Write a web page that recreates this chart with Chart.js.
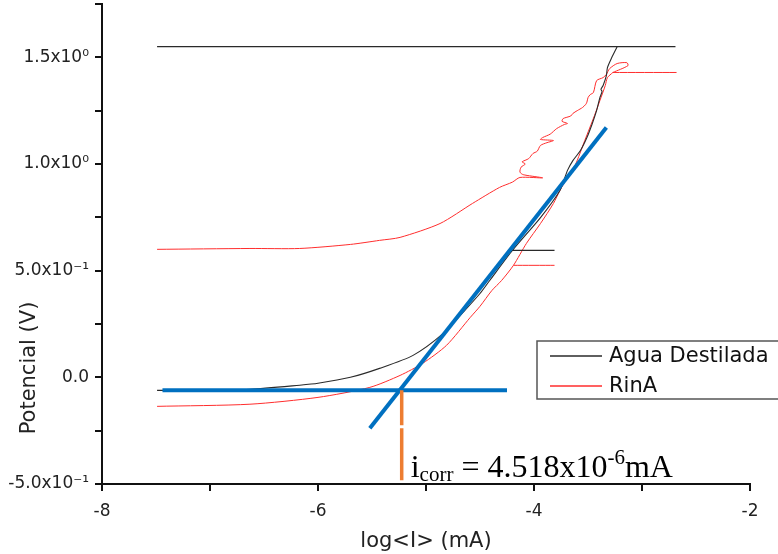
<!DOCTYPE html>
<html>
<head>
    <meta charset="UTF-8">
    <title>Polarización - icorr</title>
    <script src="https://cdn.jsdelivr.net/npm/chart.js"></script>
    <style>
        body { margin: 0; background: #fff; }
        canvas { display: block; }
    </style>
</head>
<body>
    <canvas id="myChart" width="778" height="554"></canvas>

    <script>
        // curva Agua Destilada (null = corte de la linea)
        var aguaX = [-7.49, -7.09, -6.63, -6.17, -6.00, -5.70, -5.43, -5.12, -4.84, -4.64, -4.50, -4.41, -4.20, -3.94, -3.76, -3.69, -3.64, -3.57, -3.51, -3.46, -3.42, -3.39, -3.37, -3.38, -3.36, -3.33, -3.32, -3.28, -3.23, null, -7.49, -2.69, null, -4.20, -3.81];
        var aguaY = [-0.061, -0.061, -0.056, -0.037, -0.028, 0.000, 0.042, 0.103, 0.206, 0.314, 0.393, 0.454, 0.595, 0.749, 0.876, 0.970, 1.016, 1.063, 1.124, 1.190, 1.251, 1.311, 1.340, 1.350, 1.368, 1.414, 1.452, 1.499, 1.550, null, 1.550, 1.550, null, 0.595, 0.595];

        // curva RinA: rama inferior, tramo corto, rama superior ondulada
        var rinaX = [-7.49, -6.63, -6.00, -5.52, -5.24, -5.03, -4.81, -4.59, -4.50, -4.39, -4.30, -4.19, -4.07, -3.94, -3.82, -3.76, -3.69, -3.62, -3.53, -3.44, -3.39, -3.34, -3.32, -3.27, null, -3.27, -2.68,
            null, -4.19, -3.81,
            null, -7.49, -6.63, -6.17, -5.70, -5.43, -5.24, -4.87, -4.57, -4.32, -4.20, -4.13, -3.92, -4.10, -4.13, -4.12, -4.08, -4.11, -4.05, -4.01, -3.97, -3.94, -3.88, -3.82, -3.94, -3.92, -3.85, -3.79, -3.72, -3.69, -3.74, -3.73, -3.66, -3.64, -3.60, -3.55, -3.52, -3.51, -3.50, -3.48, -3.45, -3.42, -3.36, -3.33, -3.30, -3.23, -3.14, -3.13, -3.27];
        var rinaY = [-0.136, -0.126, -0.094, -0.047, 0.009, 0.066, 0.150, 0.281, 0.333, 0.407, 0.454, 0.525, 0.628, 0.721, 0.815, 0.876, 0.937, 0.993, 1.110, 1.227, 1.297, 1.368, 1.405, 1.429, null, 1.429, 1.429,
            null, 0.525, 0.525,
            null, 0.600, 0.604, 0.604, 0.623, 0.642, 0.656, 0.721, 0.815, 0.890, 0.915, 0.937, 0.935, 0.950, 0.962, 0.985, 1.000, 1.010, 1.025, 1.049, 1.060, 1.087, 1.100, 1.110, 1.115, 1.124, 1.140, 1.166, 1.185, 1.190, 1.200, 1.213, 1.225, 1.237, 1.250, 1.265, 1.280, 1.290, 1.311, 1.325, 1.335, 1.391, 1.405, 1.420, 1.447, 1.471, 1.475, 1.461, 1.429];

        // rectas de Tafel y linea de icorr
        var fitX = [-7.44, -4.25];
        var fitY = [-0.061, -0.061];
        var tafelX = [-5.52, -3.33];
        var tafelY = [-0.239, 1.171];
        var icorrX = [-5.225, -5.225, null, -5.225, -5.225];
        var icorrY = [-0.061, -0.225, null, -0.239, -0.482];

        var yTickValues = [-0.5, 0, 0.5, 1, 1.5];
        var yTickLabels = ['-5.0x10⁻¹', '0.0', '5.0x10⁻¹', '1.0x10⁰', '1.5x10⁰'];
        var xTickValues = [-8, -6, -4, -2];
        var xTickLabels = ['-8', '-6', '-4', '-2'];

        function pts(xs, ys) {
            var out = [];
            for (var i = 0; i < xs.length; i++) {
                out.push({ x: xs[i], y: ys[i] });
            }
            return out;
        }

        function findLabel(values, labels, v) {
            for (var i = 0; i < values.length; i++) {
                if (Math.abs(values[i] - v) < 1e-6) return labels[i];
            }
            return '';
        }

        var sans = '"DejaVu Sans", "Liberation Sans", Arial, sans-serif';
        var serif = '"Liberation Serif", "Times New Roman", serif';

        // leyenda, titulo del eje y y texto de icorr
        var overlay = {
            id: 'overlay',
            afterDraw: function (chart) {
                var ctx = chart.ctx;
                var xs = chart.scales.x;

                ctx.save();
                ctx.fillStyle = '#222';
                ctx.font = '21px ' + sans;
                ctx.textAlign = 'center';
                ctx.textBaseline = 'middle';
                ctx.translate(30, 368);
                ctx.rotate(-Math.PI / 2);
                ctx.fillText('Potencial (V)', 0, 0);
                ctx.restore();

                // leyenda
                ctx.save();
                ctx.fillStyle = '#fff';
                ctx.fillRect(537, 341, 260, 58);
                ctx.strokeStyle = '#555';
                ctx.lineWidth = 1.5;
                ctx.strokeRect(537, 341, 260, 58);
                ctx.font = '21px ' + sans;
                ctx.textAlign = 'left';
                ctx.textBaseline = 'middle';
                for (var i = 0; i < 2; i++) {
                    var ds = chart.data.datasets[i];
                    var ly = 356 + i * 30;
                    ctx.strokeStyle = ds.borderColor;
                    ctx.lineWidth = 1.3;
                    ctx.beginPath();
                    ctx.moveTo(550, ly);
                    ctx.lineTo(602, ly);
                    ctx.stroke();
                    ctx.fillStyle = '#111';
                    ctx.fillText(ds.label, 609, ly + 1);
                }
                ctx.restore();

                // i_corr = 4.518x10^-6 mA
                ctx.save();
                ctx.fillStyle = '#000';
                ctx.textAlign = 'left';
                ctx.textBaseline = 'alphabetic';
                var tx = xs.getPixelForValue(icorrX[0]) + 9;
                var base = 477;
                ctx.font = '32px ' + serif;
                ctx.fillText('i', tx, base);
                tx += ctx.measureText('i').width;
                ctx.font = '21px ' + serif;
                ctx.fillText('corr', tx, base + 4);
                tx += ctx.measureText('corr').width;
                ctx.font = '32px ' + serif;
                ctx.fillText(' = 4.518x10', tx, base);
                tx += ctx.measureText(' = 4.518x10').width;
                ctx.font = '21px ' + serif;
                ctx.fillText('-6', tx, base - 13);
                tx += ctx.measureText('-6').width;
                ctx.font = '32px ' + serif;
                ctx.fillText('mA', tx, base);
                ctx.restore();
            }
        };

        var lineBase = { showLine: true, pointRadius: 0, pointHoverRadius: 0, spanGaps: false, tension: 0, fill: false };

        var ctx = document.getElementById('myChart').getContext('2d');
        var myChart = new Chart(ctx, {
            type: 'scatter',
            data: {
                datasets: [
                    Object.assign({}, lineBase, { label: 'Agua Destilada', data: pts(aguaX, aguaY), borderColor: '#2a2a2a', borderWidth: 1.1, tension: 0.25, order: 2 }),
                    Object.assign({}, lineBase, { label: 'RinA', data: pts(rinaX, rinaY), borderColor: 'rgb(255,45,45)', borderWidth: 1, tension: 0.25, order: 3 }),
                    Object.assign({}, lineBase, { label: '', data: pts(fitX, fitY), borderColor: 'rgb(0,112,192)', borderWidth: 4, order: 1 }),
                    Object.assign({}, lineBase, { label: '', data: pts(tafelX, tafelY), borderColor: 'rgb(0,112,192)', borderWidth: 4, order: 1 }),
                    Object.assign({}, lineBase, { label: '', data: pts(icorrX, icorrY), borderColor: 'rgb(237,125,49)', borderWidth: 3.5, order: 0 })
                ]
            },
            options: {
                responsive: false,
                animation: false,
                layout: { padding: { left: 0, top: 4, right: 28, bottom: 0 } },
                plugins: {
                    legend: { display: false },
                    tooltip: { enabled: false }
                },
                scales: {
                    x: {
                        type: 'linear',
                        min: -8,
                        max: -2,
                        border: { display: true, color: '#111', width: 2 },
                        grid: { display: true, drawOnChartArea: false, drawTicks: true, tickLength: 7, color: '#111', lineWidth: 2 },
                        ticks: {
                            stepSize: 1,
                            autoSkip: false,
                            maxRotation: 0,
                            padding: 10,
                            color: '#222',
                            font: { family: sans, size: 17 },
                            callback: function (v) { return findLabel(xTickValues, xTickLabels, v); }
                        },
                        title: {
                            display: true,
                            text: 'log<I> (mA)',
                            color: '#222',
                            font: { family: sans, size: 21 },
                            padding: { top: 0, bottom: 0 }
                        },
                        afterFit: function (scale) {
                            scale.height = 70;
                            scale.paddingLeft = 0;
                            scale.paddingRight = 0;
                        }
                    },
                    y: {
                        type: 'linear',
                        min: -0.5,
                        max: 1.75,
                        border: { display: true, color: '#111', width: 2 },
                        grid: { display: true, drawOnChartArea: false, drawTicks: true, tickLength: 7, color: '#111', lineWidth: 2 },
                        ticks: {
                            stepSize: 0.25,
                            autoSkip: false,
                            padding: 6,
                            color: '#222',
                            font: { family: sans, size: 17 },
                            callback: function (v) { return findLabel(yTickValues, yTickLabels, v); }
                        },
                        afterFit: function (scale) {
                            scale.width = 102;
                            scale.paddingTop = 0;
                            scale.paddingBottom = 0;
                        }
                    }
                }
            },
            plugins: [overlay]
        });
    </script>
</body>
</html>
